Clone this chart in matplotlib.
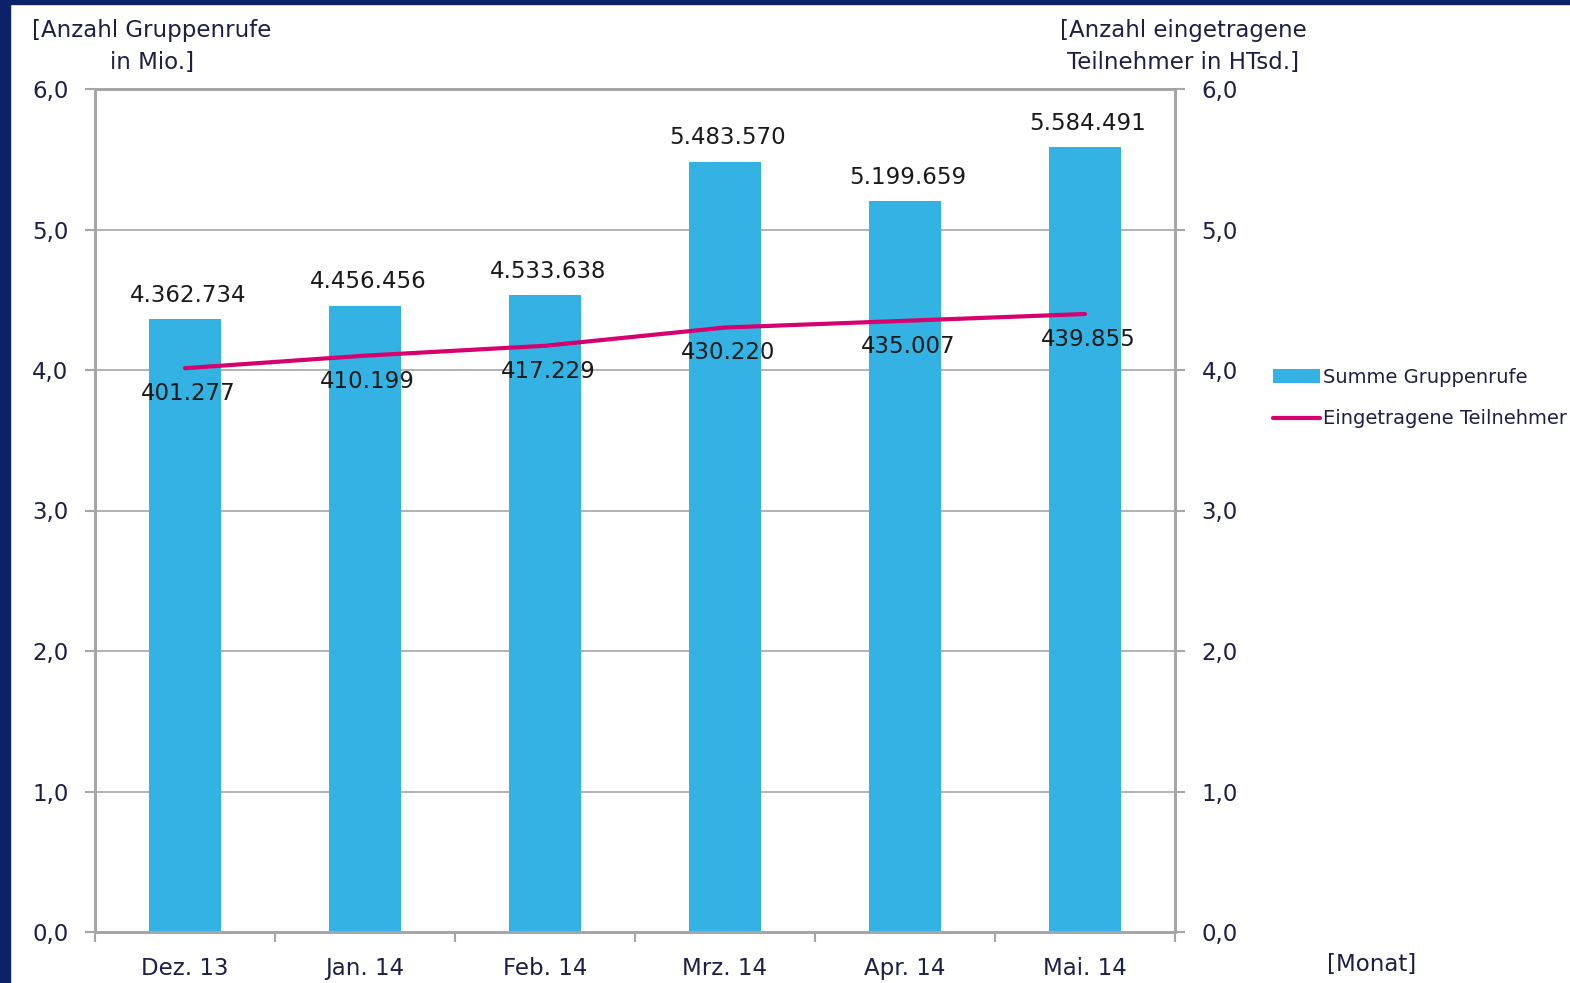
import matplotlib
matplotlib.use("Agg")
from matplotlib import pyplot as plt
from matplotlib.patches import Rectangle

# data
MONTHS = ["Dez. 13", "Jan. 14", "Feb. 14", "Mrz. 14", "Apr. 14", "Mai. 14"]
GRUPPENRUFE = [4362734, 4456456, 4533638, 5483570, 5199659, 5584491]
TEILNEHMER = [401277, 410199, 417229, 430220, 435007, 439855]

BAR_COLOR = "#33B2E3"
LINE_COLOR = "#D6006E"
TEXT_COLOR = "#1E1E46"
GRID_COLOR = "#A6A6A6"
BORDER_COLOR = "#0B2366"


def fmt_de(n: int) -> str:
    return f"{n:,}".replace(",", ".")


def main():
    plt.rcParams["font.family"] = ["DejaVu Sans"]
    fig = plt.figure(figsize=(15.7, 9.83), dpi=100)

    # dark frame on left and top edges
    fig.patches.append(Rectangle((0, 0), 10 / 1570, 1, transform=fig.transFigure,
                                 color=BORDER_COLOR, zorder=0))
    fig.patches.append(Rectangle((0, 1 - 4 / 983), 1, 4 / 983, transform=fig.transFigure,
                                 color=BORDER_COLOR, zorder=0))

    ax = fig.add_axes([95 / 1570, 1 - 932 / 983, 1080 / 1570, 843 / 983])
    ax2 = ax.twinx()

    x = list(range(len(MONTHS)))
    bar_vals = [v / 1e6 for v in GRUPPENRUFE]
    line_vals = [v / 1e5 for v in TEILNEHMER]

    bars = ax.bar(x, bar_vals, width=0.4, color=BAR_COLOR, zorder=2,
                  label="Summe Gruppenrufe")
    line, = ax2.plot(x, line_vals, color=LINE_COLOR, linewidth=3,
                     solid_capstyle="round", label="Eingetragene Teilnehmer")

    for xi, v, raw in zip(x, bar_vals, GRUPPENRUFE):
        ax.annotate(fmt_de(raw), (xi, v), xytext=(2, 9), textcoords="offset points",
                    ha="center", va="bottom", fontsize=16.5, color="#1a1a1a")
    for xi, v, raw in zip(x, line_vals, TEILNEHMER):
        ax2.annotate(fmt_de(raw), (xi, v), xytext=(2, -10), textcoords="offset points",
                     ha="center", va="top", fontsize=16.5, color="#1a1a1a")

    ax.set_xlim(-0.5, len(MONTHS) - 0.5)
    ax.set_ylim(0, 6)
    ax2.set_ylim(0, 6)
    yt = [0, 1, 2, 3, 4, 5, 6]
    ylabels = [f"{t:.1f}".replace(".", ",") for t in yt]
    ax.set_yticks(yt)
    ax.set_yticklabels(ylabels)
    ax2.set_yticks(yt)
    ax2.set_yticklabels(ylabels)
    ax.yaxis.grid(True, color=GRID_COLOR, linewidth=1.2, zorder=0)
    ax.set_axisbelow(True)

    ax.set_xticks(x)
    ax.set_xticklabels(MONTHS)
    ax.set_xticks([i - 0.5 for i in range(len(MONTHS) + 1)], minor=True)
    ax.tick_params(axis="x", which="major", length=0, pad=18, labelsize=16.5,
                   labelcolor=TEXT_COLOR)
    ax.tick_params(axis="x", which="minor", length=7, width=1.5, color=GRID_COLOR,
                   direction="out")
    ax.tick_params(axis="y", length=7, width=1.5, color=GRID_COLOR, pad=12,
                   labelsize=16.5, labelcolor=TEXT_COLOR)
    ax2.tick_params(axis="y", length=7, width=1.5, color=GRID_COLOR, pad=12,
                    labelsize=16.5, labelcolor=TEXT_COLOR)

    for a in (ax, ax2):
        for name, sp in a.spines.items():
            sp.set_color(GRID_COLOR)
            sp.set_linewidth(2)

    fig.text(32 / 1570, 1 - 30 / 983, "[Anzahl Gruppenrufe", fontsize=16.5,
             color=TEXT_COLOR, ha="left", va="center")
    fig.text(152 / 1570, 1 - 62 / 983, "in Mio.]", fontsize=16.5,
             color=TEXT_COLOR, ha="center", va="center")
    fig.text(1183 / 1570, 1 - 30 / 983, "[Anzahl eingetragene", fontsize=16.5,
             color=TEXT_COLOR, ha="center", va="center")
    fig.text(1183 / 1570, 1 - 62 / 983, "Teilnehmer in HTsd.]", fontsize=16.5,
             color=TEXT_COLOR, ha="center", va="center")
    fig.text(1372 / 1570, 1 - 965 / 983, "[Monat]", fontsize=16.5,
             color=TEXT_COLOR, ha="center", va="center")

    fig.legend([bars, line], ["Summe Gruppenrufe", "Eingetragene Teilnehmer"],
               loc="upper left", bbox_to_anchor=(1273 / 1570, 1 - 368 / 983),
               frameon=False, fontsize=14, handlelength=2.4, handletextpad=0.15,
               labelspacing=1.15, borderaxespad=0, borderpad=0,
               labelcolor=TEXT_COLOR)

    fig.savefig("out.png", dpi=100)


if __name__ == "__main__":
    main()
